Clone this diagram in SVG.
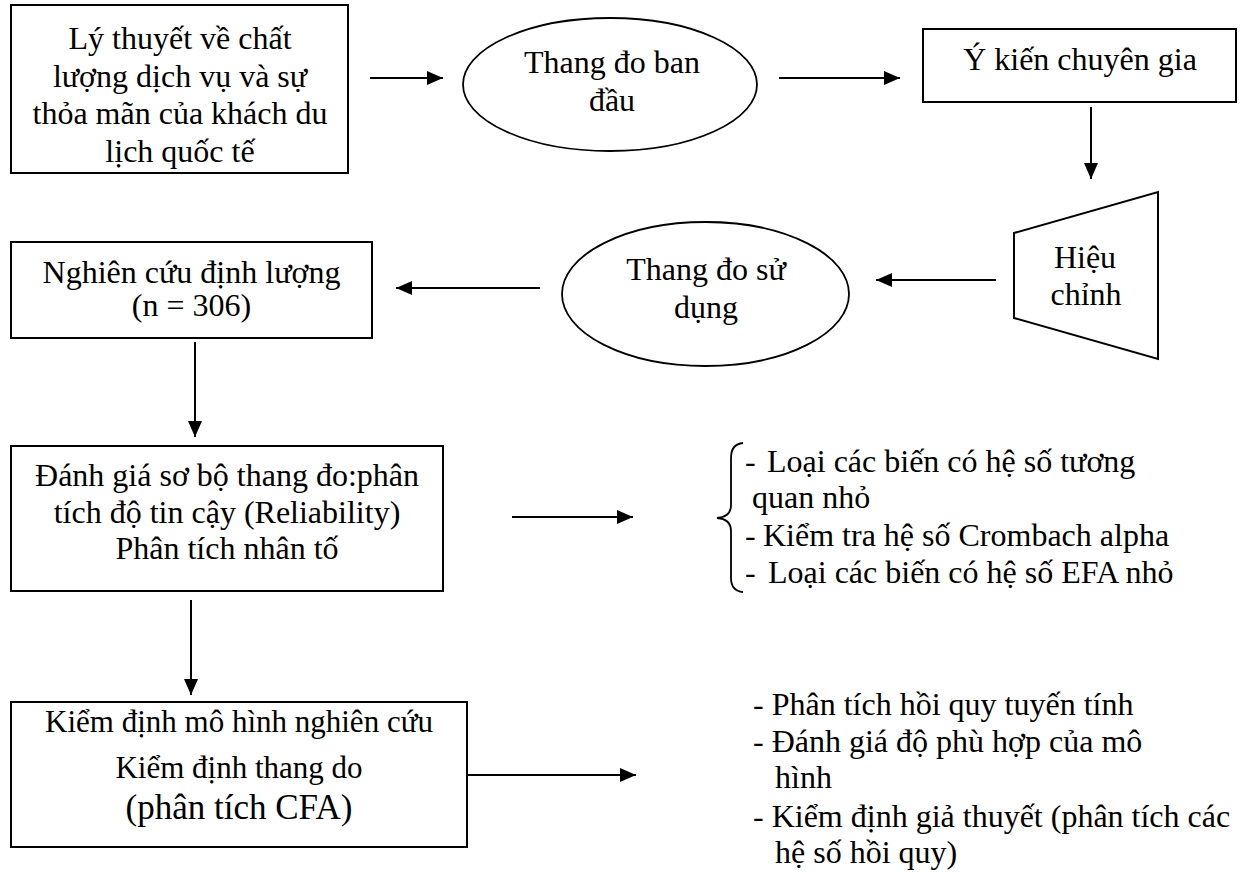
<svg xmlns="http://www.w3.org/2000/svg" width="1242" height="872" viewBox="0 0 1242 872">
<style>
  .bg { fill: #ffffff; }
  .shape { fill: #ffffff; stroke: #000000; stroke-width: 2; }
  .ell { fill: #ffffff; stroke: #000000; stroke-width: 1.8; }
  text { font-family: 'Liberation Serif', 'DejaVu Serif', serif; font-size: 32px; fill: #000000; }
  .c { text-anchor: middle; }
  .conn { stroke: #000000; stroke-width: 2; fill: none; }
  .brace { stroke: #000000; stroke-width: 1.8; fill: none; }
</style>
<defs>
  <marker id="ah" markerUnits="userSpaceOnUse" markerWidth="16" markerHeight="14" refX="16" refY="7" orient="auto">
    <path d="M0,0 L16,7 L0,14 z" fill="#000000"/>
  </marker>
</defs>
<rect class="bg" x="0" y="0" width="1242" height="872"/>

<g id="connectors">
  <line class="conn" x1="370" y1="78" x2="443" y2="78" marker-end="url(#ah)"/>
  <line class="conn" x1="779" y1="78" x2="900" y2="78" marker-end="url(#ah)"/>
  <line class="conn" x1="1091" y1="107" x2="1091" y2="179" marker-end="url(#ah)"/>
  <line class="conn" x1="996" y1="280" x2="876" y2="280" marker-end="url(#ah)"/>
  <line class="conn" x1="540" y1="288" x2="396" y2="288" marker-end="url(#ah)"/>
  <line class="conn" x1="195" y1="342" x2="195" y2="437" marker-end="url(#ah)"/>
  <line class="conn" x1="512" y1="517" x2="633" y2="517" marker-end="url(#ah)"/>
  <line class="conn" x1="191" y1="600" x2="191" y2="695" marker-end="url(#ah)"/>
  <line class="conn" x1="467" y1="775" x2="636" y2="775" marker-end="url(#ah)"/>
</g>

<g id="node-lythuyet" font-family="Liberation Serif, DejaVu Serif, serif">
  <rect class="shape" x="11" y="5" width="337" height="168"/>
  <text class="c" x="180" y="49">Lý thuyết về chất</text>
  <text class="c" x="180" y="87">lượng dịch vụ và sự</text>
  <text class="c" x="180" y="124">thỏa mãn của khách du</text>
  <text class="c" x="180" y="162">lịch quốc tế</text>
</g>

<g id="node-thangdobandau">
  <ellipse class="ell" cx="610" cy="84.5" rx="147" ry="66.5"/>
  <text class="c" x="612" y="73">Thang đo ban</text>
  <text class="c" x="612" y="111">đầu</text>
</g>

<g id="node-ykien">
  <rect class="shape" x="923" y="29" width="313" height="73"/>
  <text class="c" x="1080" y="70">Ý kiến chuyên gia</text>
</g>

<g id="node-hieuchinh">
  <polygon class="shape" points="1014,233 1158,192 1158,359 1014,318"/>
  <text class="c" x="1085" y="268">Hiệu</text>
  <text class="c" x="1086" y="305">chỉnh</text>
</g>

<g id="node-thangdosudung">
  <ellipse class="ell" cx="705.5" cy="294" rx="143.5" ry="72"/>
  <text class="c" x="706" y="280">Thang đo sử</text>
  <text class="c" x="706" y="318">dụng</text>
</g>

<g id="node-nghiencuu">
  <rect class="shape" x="11" y="242" width="361" height="96"/>
  <text class="c" x="191.5" y="283">Nghiên cứu định lượng</text>
  <text class="c" x="191.5" y="316">(n = 306)</text>
</g>

<g id="node-danhgia">
  <rect class="shape" x="11" y="446" width="432" height="145"/>
  <text class="c" x="227" y="486">Đánh giá sơ bộ thang đo:phân</text>
  <text class="c" x="227" y="523">tích độ tin cậy (Reliability)</text>
  <text class="c" x="227" y="559">Phân tích nhân tố</text>
</g>

<g id="node-list1">
  <path class="brace" d="M743,443 Q731,444 731,458 L731,505 Q731,517 717,518 Q731,519 731,531 L731,578 Q731,591 743,592"/>
  <text x="745" y="472">- <tspan x="767">Loại các biến có hệ số tương</tspan></text>
  <text x="752" y="508">quan nhỏ</text>
  <text x="745" y="546">- <tspan x="763">Kiểm tra hệ số Crombach alpha</tspan></text>
  <text x="745" y="583">- <tspan x="768">Loại các biến có hệ số EFA nhỏ</tspan></text>
</g>

<g id="node-kiemdinh">
  <rect class="shape" x="11" y="702" width="456" height="145"/>
  <text class="c" x="239" y="732" style="font-size:31px">Kiểm định mô hình nghiên cứu</text>
  <text class="c" x="239" y="778" style="font-size:31px">Kiểm định thang do</text>
  <text class="c" x="239" y="819" style="font-size:35px">(phân tích CFA)</text>
</g>

<g id="node-list2">
  <text x="753" y="715">- Phân tích hồi quy tuyến tính</text>
  <text x="753" y="752">- Đánh giá độ phù hợp của mô</text>
  <text x="775" y="788">hình</text>
  <text x="753" y="827">- Kiểm định giả thuyết (phân tích các</text>
  <text x="775" y="863">hệ số hồi quy)</text>
</g>
</svg>
